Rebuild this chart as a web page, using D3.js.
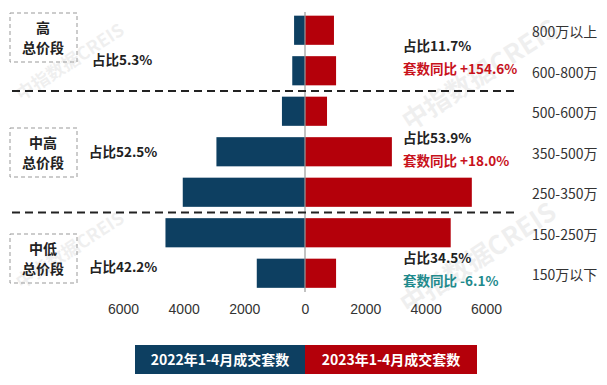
<!DOCTYPE html>
<meta charset="utf-8">
<style>
    body { margin: 0; background: #fff; }
    svg { display: block; font-family: "Noto Sans CJK SC", "Microsoft YaHei", sans-serif; }
    .tick text { font-size: 14px; fill: #333; }
    .cat { font-size: 14px; fill: #333; }
    .share { font-size: 13.5px; font-weight: bold; fill: #222; }
</style>
<script src="https://cdn.jsdelivr.net/npm/d3@7"></script>
<svg width="607" height="385"></svg>
<script>
    // 数据
    var categories = ["800万以上", "600-800万", "500-600万", "350-500万", "250-350万", "150-250万", "150万以下"];
    var sales2022 = [360, 420, 760, 2920, 4030, 4600, 1590];
    var sales2023 = [960, 1030, 730, 2880, 5530, 4830, 1030];
    var axisTicks = [0, 2000, 4000, 6000];

    var groups = [
        { name: ["高", "总价段"], first: 0, last: 1, left: "占比5.3%", right: "占比11.7%", yoy: "套数同比 +154.6%", up: true },
        { name: ["中高", "总价段"], first: 2, last: 4, left: "占比52.5%", right: "占比53.9%", yoy: "套数同比 +18.0%", up: true },
        { name: ["中低", "总价段"], first: 5, last: 6, left: "占比42.2%", right: "占比34.5%", yoy: "套数同比 -6.1%", up: false }
    ];

    var blue = "#0d3f61", red = "#b4000a";

    var svg = d3.select("svg");
    var x0 = 305;

    var xl = d3.scaleLinear().domain([0, 6000]).range([x0, 123]);
    var xr = d3.scaleLinear().domain([0, 6000]).range([x0, 486]);
    var y = d3.scaleBand().domain(categories).range([10, 293.5]).paddingInner(0.28).paddingOuter(0.14);

    // 水印
    var wm = [[70, 62], [480, 75], [70, 250], [478, 258]];
    svg.append("g").selectAll("text").data(wm).enter().append("text")
        .attr("transform", function (d) { return "translate(" + d[0] + "," + d[1] + ") rotate(-33)"; })
        .attr("text-anchor", "middle")
        .attr("dy", "0.35em")
        .style("font-size", function (d, i) { return i % 2 ? "26px" : "18px"; })
        .style("font-weight", "bold")
        .style("fill", "#000").style("opacity", 0.06)
        .text("中指数据CREIS");

    // 柱
    svg.append("g").selectAll("rect").data(categories).enter().append("rect")
        .attr("x", function (d, i) { return xl(sales2022[i]); })
        .attr("y", function (d) { return y(d); })
        .attr("width", function (d, i) { return x0 - xl(sales2022[i]); })
        .attr("height", y.bandwidth())
        .attr("fill", blue);

    svg.append("g").selectAll("rect").data(categories).enter().append("rect")
        .attr("x", x0)
        .attr("y", function (d) { return y(d); })
        .attr("width", function (d, i) { return xr(sales2023[i]) - x0; })
        .attr("height", y.bandwidth())
        .attr("fill", red);

    // 零线
    svg.append("line")
        .attr("x1", x0).attr("x2", x0)
        .attr("y1", 12).attr("y2", 292)
        .attr("stroke", "#999").attr("stroke-width", 1.2);

    // 坐标轴
    var fmt = d3.format("d");
    var axL = svg.append("g").attr("transform", "translate(0,300)")
        .call(d3.axisBottom(xl).tickValues(axisTicks).tickFormat(fmt).tickSize(0).tickPadding(4));
    var axR = svg.append("g").attr("transform", "translate(0,300)")
        .call(d3.axisBottom(xr).tickValues(axisTicks.slice(1)).tickFormat(fmt).tickSize(0).tickPadding(4));
    [axL, axR].forEach(function (a) {
        a.select(".domain").remove();
        a.selectAll("text").attr("font-family", null);
    });

    // 分隔虚线
    var step = y.step();
    [1, 4].forEach(function (i) {
        var yy = y(categories[i]) + y.bandwidth() + (step - y.bandwidth()) / 2;
        svg.append("line")
            .attr("x1", 12).attr("x2", 516)
            .attr("y1", yy).attr("y2", yy)
            .attr("stroke", "#222").attr("stroke-width", 2)
            .attr("stroke-dasharray", "8,5");
    });

    // 分类标签
    svg.append("g").selectAll("text").data(categories).enter().append("text")
        .attr("class", "cat")
        .attr("x", 532)
        .attr("y", function (d) { return y(d) + y.bandwidth() / 2 + 2; })
        .attr("dy", "0.35em")
        .text(function (d) { return d; });

    // 分组框和占比
    var boxY = [13, 128, 234];
    var leftY = [60, 152, 267];
    var rightY = [46, 138, 258];
    groups.forEach(function (g, i) {
        svg.append("rect")
            .attr("x", 10).attr("y", boxY[i])
            .attr("width", 67).attr("height", 49)
            .attr("fill", "none").attr("stroke", "#999")
            .attr("stroke-dasharray", "4,3");
        var t = svg.append("text")
            .attr("text-anchor", "middle")
            .style("font-size", "14px").style("font-weight", "bold").style("fill", "#222");
        t.append("tspan").attr("x", 43).attr("y", boxY[i] + 20).text(g.name[0]);
        t.append("tspan").attr("x", 43).attr("y", boxY[i] + 40).text(g.name[1]);

        svg.append("text").attr("class", "share")
            .attr("x", i == 0 ? 92 : 89).attr("y", leftY[i]).attr("dy", "0.35em")
            .text(g.left);
        svg.append("text").attr("class", "share")
            .attr("x", 403).attr("y", rightY[i]).attr("dy", "0.35em")
            .text(g.right);
        svg.append("text").attr("class", "share")
            .attr("x", 403).attr("y", rightY[i] + 23).attr("dy", "0.35em")
            .style("fill", g.up ? "#c8121c" : "#1f8a8c")
            .text(g.yoy);
    });

    // 图例
    var legend = [
        { text: "2022年1-4月成交套数", color: blue, x: 135, w: 170 },
        { text: "2023年1-4月成交套数", color: red, x: 305, w: 172 }
    ];
    var lg = svg.append("g").selectAll("g").data(legend).enter().append("g");
    lg.append("rect")
        .attr("x", function (d) { return d.x; }).attr("y", 345)
        .attr("width", function (d) { return d.w; }).attr("height", 29)
        .attr("fill", function (d) { return d.color; });
    lg.append("text")
        .attr("x", function (d) { return d.x + d.w / 2; }).attr("y", 360)
        .attr("dy", "0.35em").attr("text-anchor", "middle")
        .style("font-size", "14px").style("font-weight", "bold").style("fill", "#fff")
        .text(function (d) { return d.text; });
</script>
